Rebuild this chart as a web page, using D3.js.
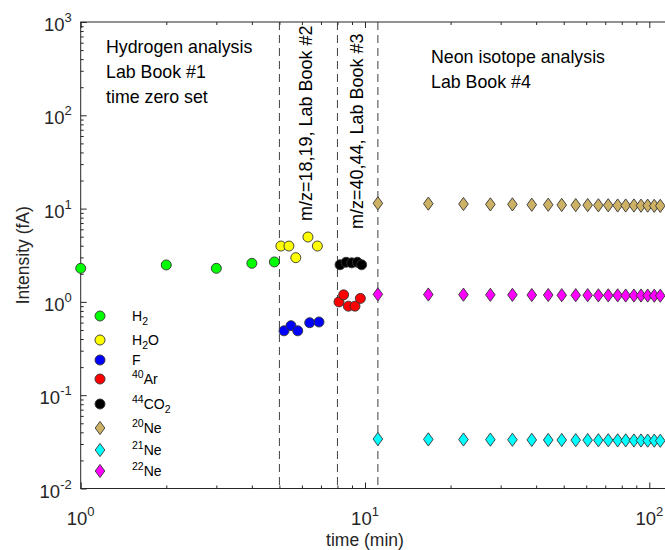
<!DOCTYPE html>
<html>
<head>
<meta charset="utf-8">
<script src="https://cdn.jsdelivr.net/npm/d3@7"></script>
<style>
  body { margin: 0; background: #fff; }
  svg { font-family: "Liberation Sans", Arial, sans-serif; }
</style>
</head>
<body>
<div id="chart"></div>
<script>
// data
const h2Time = [1.0, 2.0, 3.0, 4.0, 4.8];
const h2Val = [2.29, 2.49, 2.29, 2.59, 2.68];

const h2oTime = [5.06, 5.40, 5.71, 6.30, 6.80];
const h2oVal = [3.97, 3.97, 2.98, 4.96, 3.97];

const fTime = [5.19, 5.49, 5.80, 6.39, 6.89];
const fVal = [0.49, 0.556, 0.49, 0.598, 0.609];

const arTime = [8.10, 8.41, 8.74, 9.22, 9.63];
const arVal = [1.0, 1.19, 0.90, 0.90, 1.09];

const co2Time = [8.17, 8.58, 8.98, 9.40, 9.73];
const co2Val = [2.50, 2.66, 2.62, 2.66, 2.50];

const neTime = [11.1, 16.7, 22.2, 27.6, 33.0, 38.6, 44.1, 49.2, 55.1, 60.7, 66.2, 71.7, 77.4, 82.6, 88.3, 93.5, 98.7, 104.1, 109.3];
const ne20Val = [11.4, 11.3, 11.2, 11.1, 11.1, 11.0, 11.0, 10.95, 10.9, 10.9, 10.85, 10.85, 10.8, 10.8, 10.8, 10.75, 10.75, 10.7, 10.7];
const ne21Val = [0.0339, 0.0336, 0.0335, 0.0334, 0.0333, 0.0332, 0.0331, 0.0331, 0.0330, 0.0330, 0.0329, 0.0329, 0.0328, 0.0328, 0.0327, 0.0327, 0.0326, 0.0326, 0.0325];
const ne22Val = [1.205, 1.20, 1.195, 1.19, 1.19, 1.185, 1.185, 1.18, 1.18, 1.18, 1.175, 1.175, 1.175, 1.17, 1.17, 1.17, 1.17, 1.165, 1.165];

const dividers = [5.0, 8.0, 11.1];

const series = [
  { label: [["H"], ["2", "sub"]], shape: "circle", color: "#00ff00", t: h2Time, v: h2Val },
  { label: [["H"], ["2", "sub"], ["O"]], shape: "circle", color: "#ffff00", t: h2oTime, v: h2oVal },
  { label: [["F"]], shape: "circle", color: "#0000ff", t: fTime, v: fVal },
  { label: [["40", "sup"], ["Ar"]], shape: "circle", color: "#ff0000", t: arTime, v: arVal },
  { label: [["44", "sup"], ["CO"], ["2", "sub"]], shape: "circle", color: "#000000", t: co2Time, v: co2Val },
  { label: [["20", "sup"], ["Ne"]], shape: "diamond", color: "#cdb266", t: neTime, v: ne20Val },
  { label: [["21", "sup"], ["Ne"]], shape: "diamond", color: "#00ffff", t: neTime, v: ne21Val },
  { label: [["22", "sup"], ["Ne"]], shape: "diamond", color: "#ff00ff", t: neTime, v: ne22Val }
];

const W = 665, H = 550;
const plotLeft = 80.7, plotTop = 22, plotBottom = 488.5;
const decade = 284.3;
const xMax = 130;
const plotRight = plotLeft + decade * Math.log10(xMax);

const svg = d3.select("#chart").append("svg")
  .attr("width", W).attr("height", H);

const x = d3.scaleLog().domain([1, xMax]).range([plotLeft, plotRight]);
const y = d3.scaleLog().domain([0.01, 1000]).range([plotBottom, plotTop]);

const axisColor = "#262626";

// box
svg.append("rect")
  .attr("x", plotLeft).attr("y", plotTop)
  .attr("width", plotRight - plotLeft).attr("height", plotBottom - plotTop)
  .attr("fill", "none").attr("stroke", axisColor).attr("stroke-width", 1);

// ticks (inward, on all sides)
const xMajor = [1, 10, 100];
const xMinor = x.ticks().filter(d => !xMajor.includes(d));
const yMajor = [0.01, 0.1, 1, 10, 100, 1000];
const yMinor = y.ticks().filter(d => !yMajor.some(m => Math.abs(m - d) / m < 1e-6));

function tickAxis(gen, tr, vals, size) {
  const g = svg.append("g").attr("transform", tr)
    .call(gen.tickValues(vals).tickSizeInner(size).tickSizeOuter(0).tickFormat(""));
  g.select(".domain").remove();
  g.selectAll("line").attr("stroke", axisColor).attr("stroke-width", 1);
}
tickAxis(d3.axisBottom(x), `translate(0,${plotBottom})`, xMajor, -6);
tickAxis(d3.axisBottom(x), `translate(0,${plotBottom})`, xMinor, -3);
tickAxis(d3.axisTop(x), `translate(0,${plotTop})`, xMajor, -6);
tickAxis(d3.axisTop(x), `translate(0,${plotTop})`, xMinor, -3);
tickAxis(d3.axisLeft(y), `translate(${plotLeft},0)`, yMajor, -6);
tickAxis(d3.axisLeft(y), `translate(${plotLeft},0)`, yMinor, -3);

// tick labels 10^n
function powLabel(g, exp) {
  g.append("tspan").text("10");
  g.append("tspan").attr("dy", -9).attr("font-size", 13).text(exp);
}
xMajor.forEach(d => {
  const t = svg.append("text")
    .attr("x", x(d)).attr("y", plotBottom + 36)
    .attr("text-anchor", "middle")
    .attr("font-size", 18.5).attr("fill", axisColor);
  powLabel(t, Math.round(Math.log10(d)));
});
yMajor.forEach(d => {
  const t = svg.append("text")
    .attr("x", plotLeft - 9).attr("y", y(d) + 9)
    .attr("text-anchor", "end")
    .attr("font-size", 18.5).attr("fill", axisColor);
  powLabel(t, Math.round(Math.log10(d)));
});

// axis titles
svg.append("text")
  .attr("x", 365).attr("y", 546)
  .attr("text-anchor", "middle")
  .attr("font-size", 17.5).attr("fill", axisColor)
  .text("time (min)");
svg.append("text")
  .attr("transform", `translate(29,${(plotTop + plotBottom) / 2}) rotate(-90)`)
  .attr("text-anchor", "middle")
  .attr("font-size", 17.5).attr("fill", axisColor)
  .text("Intensity (fA)");

// dashed dividers
svg.selectAll(".divider")
  .data(dividers)
  .enter().append("line")
  .attr("class", "divider")
  .attr("x1", d => x(d)).attr("x2", d => x(d))
  .attr("y1", plotTop).attr("y2", plotBottom)
  .attr("stroke", "#404040").attr("stroke-width", 1)
  .attr("stroke-dasharray", "8,5");

// annotations
function block(lines, x0, y0) {
  lines.forEach((s, i) => {
    svg.append("text")
      .attr("x", x0).attr("y", y0 + i * 25)
      .attr("font-size", 17.8).attr("fill", "#000")
      .text(s);
  });
}
block(["Hydrogen analysis", "Lab Book #1", "time zero set"], 106, 53);
block(["Neon isotope analysis", "Lab Book #4"], 431, 63);

svg.append("text")
  .attr("transform", "translate(312,221) rotate(-90)")
  .attr("font-size", 18).attr("fill", "#000")
  .text("m/z=18,19, Lab Book #2");
svg.append("text")
  .attr("transform", "translate(363,229) rotate(-90)")
  .attr("font-size", 18).attr("fill", "#000")
  .text("m/z=40,44, Lab Book #3");

// markers
const diamond = "M0,-6.6L4.8,0L0,6.6L-4.8,0Z";
function drawMarker(g, shape, color) {
  if (shape === "circle") {
    g.append("circle").attr("r", 5)
      .attr("fill", color).attr("stroke", "#333").attr("stroke-width", 0.9);
  } else {
    g.append("path").attr("d", diamond)
      .attr("fill", color).attr("stroke", "#333").attr("stroke-width", 0.9);
  }
}

series.forEach(s => {
  const pts = s.t.map((t, i) => ({ t: t, v: s.v[i] }));
  svg.append("g").selectAll("g")
    .data(pts)
    .enter().append("g")
    .attr("transform", d => `translate(${x(d.t)},${y(d.v)})`)
    .each(function() { drawMarker(d3.select(this), s.shape, s.color); });
});

// legend (no box)
const legendRows = [316, 340, 360, 379, 404, 428, 450, 471];
series.forEach((s, i) => {
  const g = svg.append("g").attr("transform", `translate(100,${legendRows[i]})`);
  drawMarker(g, s.shape, s.color);
  const t = g.append("text")
    .attr("x", 32).attr("y", 5)
    .attr("font-size", 14).attr("fill", "#000");
  s.label.forEach((part, j) => {
    const ts = t.append("tspan").text(part[0]);
    const prev = j > 0 ? s.label[j - 1] : null;
    if (part[1] === "sub") {
      ts.attr("font-size", 10.5).attr("dy", 4);
    } else if (part[1] === "sup") {
      ts.attr("font-size", 10.5).attr("dy", -6);
    } else if (prev && prev[1] === "sub") {
      ts.attr("dy", -4);
    } else if (prev && prev[1] === "sup") {
      ts.attr("dy", 6);
    }
  });
});
</script>
</body>
</html>
